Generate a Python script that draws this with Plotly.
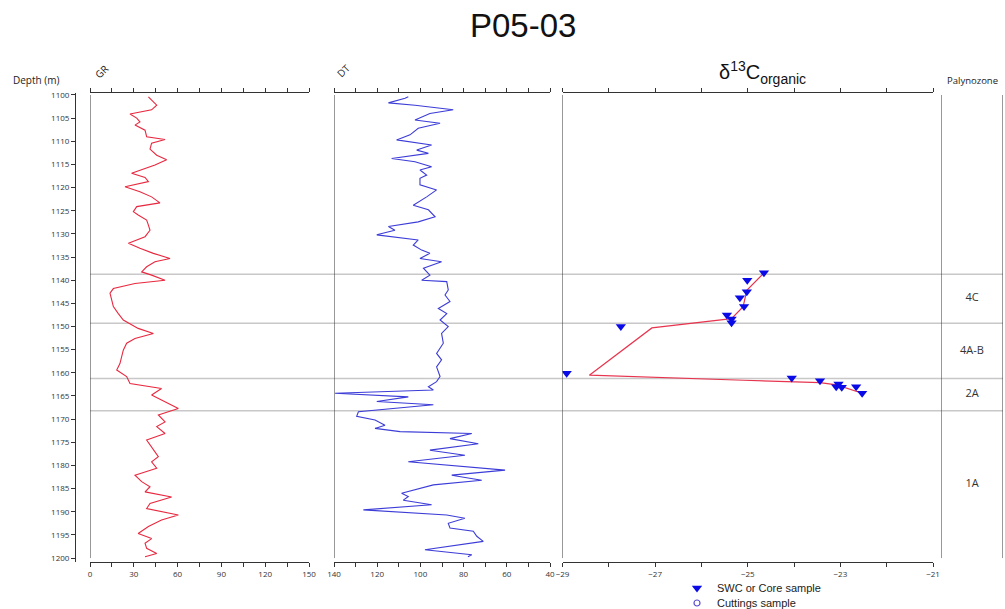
import plotly.graph_objects as go

W, H = 1005, 609

# ---------------- data ----------------
gr_depth = [1100.4, 1102.2, 1103.2, 1104.1, 1105.0, 1105.8, 1106.5, 1107.6, 1109.0, 1109.6,
            1110.4, 1111.7, 1113.0, 1114.0, 1115.1, 1116.9, 1117.8, 1118.7, 1119.8, 1120.9,
            1122.0, 1123.3, 1124.1, 1125.2, 1125.9, 1127.0, 1128.1, 1129.2, 1130.6, 1132.0,
            1133.1, 1134.2, 1135.3, 1136.0, 1137.1, 1138.2, 1138.9, 1140.0, 1140.7, 1141.8,
            1142.8, 1144.3, 1145.7, 1147.2, 1148.6, 1150.4, 1151.5, 1152.6, 1153.6, 1155.1,
            1156.5, 1158.0, 1159.4, 1160.8, 1162.3, 1163.4, 1164.8, 1166.2, 1167.7, 1169.1,
            1170.6, 1171.6, 1173.1, 1174.5, 1175.6, 1176.7, 1178.1, 1179.2, 1180.6, 1182.1,
            1183.5, 1184.6, 1185.7, 1186.8, 1188.2, 1189.3, 1190.7, 1191.8, 1193.2, 1194.7,
            1195.8, 1196.8, 1197.9, 1199.0, 1199.7]
gr_value = [40.0, 45.7, 42.2, 27.4, 32.0, 34.2, 30.8, 37.7, 38.8, 51.4,
            42.2, 41.1, 45.7, 52.5, 44.5, 28.5, 37.7, 40.0, 24.0, 34.2,
            42.2, 47.9, 32.0, 29.7, 33.0, 38.8, 40.0, 41.1, 37.7, 26.3,
            34.2, 43.4, 54.8, 44.5, 38.8, 35.4, 42.2, 51.4, 30.8, 16.0,
            13.7, 14.8, 16.0, 19.4, 22.8, 33.0, 43.4, 30.8, 25.1, 22.8,
            21.6, 20.5, 18.3, 25.1, 27.4, 49.0, 42.2, 51.4, 60.5, 46.8,
            51.4, 45.7, 51.4, 38.8, 41.1, 43.4, 46.8, 42.2, 45.7, 30.8,
            35.4, 41.1, 37.7, 55.9, 41.1, 38.8, 60.5, 49.0, 40.0, 33.0,
            42.2, 37.7, 38.8, 45.7, 37.7]

dt_depth = [1100.4, 1100.7, 1101.7, 1102.2, 1103.2, 1104.0, 1105.4, 1106.1, 1107.2, 1108.6,
            1109.7, 1110.8, 1111.9, 1112.6, 1113.7, 1114.4, 1115.5, 1116.2, 1117.3, 1118.0,
            1119.4, 1120.5, 1122.0, 1123.8, 1124.8, 1126.3, 1127.4, 1128.4, 1129.2, 1130.2,
            1131.3, 1132.4, 1133.5, 1134.2, 1135.3, 1136.0, 1137.4, 1138.9, 1140.0, 1140.3,
            1142.1, 1143.2, 1144.6, 1146.1, 1147.2, 1148.6, 1150.0, 1151.5, 1153.6, 1155.8,
            1157.2, 1158.7, 1160.8, 1161.9, 1163.0, 1163.7, 1164.4, 1165.2, 1166.2, 1166.9,
            1168.4, 1169.4, 1170.2, 1171.3, 1172.0, 1172.7, 1173.1, 1174.2, 1175.3, 1176.7,
            1177.8, 1179.2, 1181.0, 1182.1, 1183.2, 1184.2, 1186.0, 1186.7, 1187.5, 1188.5,
            1189.6, 1190.7, 1191.4, 1192.5, 1193.5, 1194.2, 1195.3, 1196.4, 1198.2, 1199.3,
            1199.7]
dt_value = [105.6, 107.1, 114.8, 102.5, 84.8, 95.6, 102.5, 90.9, 101.0, 104.8,
            111.0, 94.8, 101.7, 96.3, 113.3, 102.5, 94.8, 100.2, 97.1, 100.2,
            100.2, 92.5, 97.1, 103.3, 96.3, 93.2, 101.0, 114.8, 111.8, 120.2,
            101.0, 103.3, 99.4, 95.6, 100.2, 90.2, 98.6, 95.6, 99.4, 87.8,
            87.1, 88.6, 86.3, 91.7, 87.8, 90.9, 87.1, 90.2, 89.4, 92.5,
            90.2, 92.5, 90.9, 92.5, 96.3, 94.0, 139.5, 105.6, 120.2, 94.0,
            128.7, 129.5, 121.0, 116.4, 121.0, 109.4, 76.2, 86.3, 73.2, 95.6,
            79.4, 105.6, 60.8, 85.5, 71.6, 94.0, 108.7, 105.6, 107.9, 94.8,
            126.4, 87.8, 79.4, 87.1, 86.3, 75.5, 73.9, 70.9, 97.9, 76.2,
            78.0]

c13_depth = [1138.4, 1140.0, 1142.5, 1143.8, 1145.7, 1147.5, 1148.4, 1149.2, 1150.0,
             1160.1, 1161.1, 1161.7, 1162.4, 1163.0, 1163.1, 1163.0, 1164.4]
c13_value = [-24.65, -25.01, -25.02, -25.17, -25.08, -25.45, -25.35, -25.35, -27.74,
             -28.91, -24.05, -23.44, -23.04, -23.09, -22.97, -22.66, -22.53]

c13_line_depth = [1138.4, 1142.2, 1145.7, 1148.3, 1150.3, 1160.5, 1161.6, 1162.1, 1162.6, 1164.4]
c13_line_value = [-24.65, -25.02, -25.10, -25.35, -27.07, -28.42, -25.09, -23.44, -23.08, -22.53]

zone_tops = [1138.7, 1149.3, 1161.2, 1168.2]
zone_bottoms = [1149.3, 1161.2, 1168.2, 1200.0]
zone_labels = ["4C", "4A-B", "2A", "1A"]

depth_ticks = list(range(1100, 1201, 5))
gr_ticks = list(range(0, 151, 30))
dt_ticks = list(range(140, 39, -20))
c13_ticks = list(range(-29, -20, 2))

# ---------------- helpers ----------------
def px_x(p):
    return p / W

def px_y(p):
    return 1 - p / H

TICKFONT = dict(family="Open Sans", size=8, color="#333")
LINEC = "#333"

fig = go.Figure()

fig.add_trace(go.Scatter(x=gr_value, y=gr_depth, mode="lines", xaxis="x", yaxis="y",
                         line=dict(color="#e8283f", width=1.1), showlegend=False,
                         hoverinfo="skip"))
fig.add_trace(go.Scatter(x=dt_value, y=dt_depth, mode="lines", xaxis="x2", yaxis="y",
                         line=dict(color="#3c3cd8", width=1.1), showlegend=False,
                         hoverinfo="skip"))
fig.add_trace(go.Scatter(x=c13_line_value, y=c13_line_depth, mode="lines", xaxis="x3", yaxis="y",
                         line=dict(color="#e8354f", width=1.2), showlegend=False,
                         hoverinfo="skip"))
fig.add_trace(go.Scatter(x=c13_value, y=c13_depth, mode="markers", xaxis="x3", yaxis="y",
                         marker=dict(symbol="triangle-down", size=9, color="#0a0ae6"),
                         name="SWC or Core sample", legend="legend"))
fig.add_trace(go.Scatter(x=[None], y=[None], mode="markers", xaxis="x3", yaxis="y",
                         marker=dict(symbol="circle-open", size=6, color="#5a50d0",
                                     line=dict(width=1.2)),
                         name="Cuttings sample", legend="legend2"))

zone_mid = [(a + b) / 2 for a, b in zip(zone_tops, zone_bottoms)]
fig.add_trace(go.Scatter(x=[0.5] * len(zone_labels), y=zone_mid, mode="text",
                         text=zone_labels, xaxis="x4", yaxis="y",
                         textfont=dict(family="Open Sans", size=11, color="#333"),
                         showlegend=False, hoverinfo="skip"))

def xax(domain, rng, ticks, minor_step):
    return dict(domain=domain, range=rng, anchor="y", side="bottom",
                showline=True, linecolor=LINEC, linewidth=1, mirror="ticks",
                ticks="outside", ticklen=4, tickcolor=LINEC, tickwidth=1,
                tickvals=ticks, tickfont=TICKFONT,
                minor=dict(dtick=minor_step, ticks="outside", ticklen=4,
                           tickcolor=LINEC, tickwidth=1, showgrid=False),
                showgrid=False, zeroline=False, fixedrange=True)

fig.update_layout(
    width=W, height=H, margin=dict(l=0, r=0, t=0, b=0, autoexpand=False),
    paper_bgcolor="white", plot_bgcolor="rgba(0,0,0,0)",
    xaxis=xax([px_x(90), px_x(309)], [0, 150], gr_ticks, 15),
    xaxis2=xax([px_x(334), px_x(550)], [140, 40], dt_ticks, 10),
    xaxis3=xax([px_x(562.5), px_x(933)], [-29, -21], c13_ticks, 1),
    xaxis4=dict(domain=[px_x(941), px_x(1003)], range=[0, 1], anchor="y", visible=False,
                fixedrange=True),
    yaxis=dict(domain=[px_y(562), px_y(93)], range=[1200.85, 1099.57], anchor="free",
               position=px_x(75), side="left", showline=True, linecolor=LINEC, linewidth=1,
               ticks="outside", ticklen=4, tickcolor=LINEC, tickvals=depth_ticks,
               tickfont=TICKFONT, showgrid=False, zeroline=False, fixedrange=True),
    legend=dict(x=px_x(677), y=px_y(588), xanchor="left", yanchor="middle",
                font=dict(family="Liberation Sans", size=11, color="#222"),
                bgcolor="rgba(0,0,0,0)", borderwidth=0),
    legend2=dict(x=px_x(677), y=px_y(603), xanchor="left", yanchor="middle",
                 font=dict(family="Liberation Sans", size=11, color="#222"),
                 bgcolor="rgba(0,0,0,0)", borderwidth=0),
)

shapes = []
# panel borders
for xr, xv in [("x", 0), ("x2", 140), ("x3", -29), ("x4", 0), ("x4", 1)]:
    shapes.append(dict(type="line", xref=xr, yref="y", x0=xv, x1=xv, y0=1100, y1=1200,
                       line=dict(color=LINEC, width=1)))
# zone boundaries
for z in zone_tops:
    shapes.append(dict(type="line", xref="paper", yref="y", x0=px_x(90), x1=px_x(1003),
                       y0=z, y1=z, line=dict(color="#c8c8c8", width=1.5), layer="below"))
fig.update_layout(shapes=shapes)

ann = []
ann.append(dict(text="P05-03", x=px_x(523), y=px_y(26), xref="paper", yref="paper",
                showarrow=False, font=dict(family="Liberation Sans", size=33, color="#111"),
                xanchor="center", yanchor="middle"))
ann.append(dict(text="Depth (m)", x=px_x(36), y=px_y(80), xref="paper", yref="paper",
                showarrow=False, font=dict(family="Open Sans", size=10, color="#222"),
                xanchor="center", yanchor="middle"))
ann.append(dict(text="GR", x=px_x(101), y=px_y(72), xref="paper", yref="paper",
                showarrow=False, textangle=-45,
                font=dict(family="Open Sans", size=10, color="#222"),
                xanchor="center", yanchor="middle"))
ann.append(dict(text="DT", x=px_x(343), y=px_y(71), xref="paper", yref="paper",
                showarrow=False, textangle=-45,
                font=dict(family="Open Sans", size=10, color="#222"),
                xanchor="center", yanchor="middle"))
ann.append(dict(text="δ<sup>13</sup>C<sub>organic</sub>", x=px_x(762), y=px_y(73),
                xref="paper", yref="paper", showarrow=False,
                font=dict(family="Liberation Sans", size=20, color="#111"),
                xanchor="center", yanchor="middle"))
ann.append(dict(text="Palynozone", x=px_x(972), y=px_y(80), xref="paper", yref="paper",
                showarrow=False, font=dict(family="Open Sans", size=9.5, color="#222"),
                xanchor="center", yanchor="middle"))
fig.update_layout(annotations=ann)

fig.write_html("out.html")
